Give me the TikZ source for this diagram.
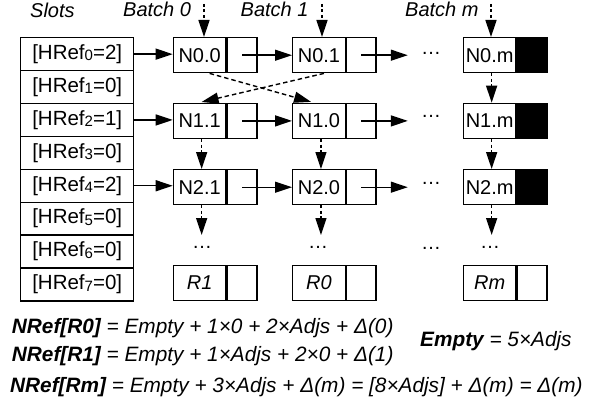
\documentclass[tikz,border=0pt]{standalone}
\usepackage{fontspec}
\setmainfont{Liberation Sans}
\usetikzlibrary{arrows.meta}
\newcommand\hsub[1]{\raisebox{-1.5pt}{\fontsize{15}{15}\selectfont #1}}
\begin{document}
\begin{tikzpicture}[x=1pt,y=-1pt,
  every node/.style={inner sep=0pt, font=\fontsize{20}{24}\selectfont},
  cell/.style={draw, line width=1.4pt, minimum height=35pt, anchor=north west},
  maincell/.style={cell, minimum width=52.5pt},
  ptrcell/.style={cell, minimum width=29.5pt},
  slot/.style={draw, line width=1.4pt, minimum width=113pt, minimum height=32.9pt, anchor=north west, font=\fontsize{20.5}{24}\selectfont},
  arr/.style={line width=1.4pt, -{Triangle[length=17pt,width=11pt]}},
  darr/.style={arr, dash pattern=on 3pt off 2.5pt},
  xarr/.style={arr, dash pattern=on 4.5pt off 3pt},
  lbl/.style={font=\fontsize{20}{24}\selectfont\itshape, anchor=base west},
  eq/.style={font=\fontsize{20.8}{24}\selectfont\itshape, anchor=base west},
  dotsn/.style={anchor=center}
]
\useasboundingbox (0,0) rectangle (602,404);

% slots
\foreach \k/\v in {0/2,1/0,2/1,3/0,4/2,5/0,6/0,7/0}
  \node[slot] (s\k) at (20,{37+32.9*\k}) {[HRef\hsub{\k}=\v]};

% labels
\node[lbl] (lslots) at (30,17.3) {Slots};
\node[lbl] (lb0) at (123,17) {Batch 0};
\node[lbl] (lb1) at (240.5,17) {Batch 1};
\node[lbl] (lbm) at (405,17) {Batch m};

% cells
\node[maincell] (r0c0) at (172.7,37) {N0.0};
\node[ptrcell] (q0c0) at (r0c0.north east) {};
\node[maincell] (r0c1) at (292,37) {N0.1};
\node[ptrcell] (q0c1) at (r0c1.north east) {};
\node[maincell] (r0cm) at (462.7,37) {N0.m};
\node[ptrcell, fill=black] (q0cm) at (r0cm.north east) {};

\node[maincell] (r1c0) at (172.7,102.7) {N1.1};
\node[ptrcell] (q1c0) at (r1c0.north east) {};
\node[maincell] (r1c1) at (292,102.7) {N1.0};
\node[ptrcell] (q1c1) at (r1c1.north east) {};
\node[maincell] (r1cm) at (462.7,102.7) {N1.m};
\node[ptrcell, fill=black] (q1cm) at (r1cm.north east) {};

\node[maincell] (r2c0) at (172.7,169) {N2.1};
\node[ptrcell] (q2c0) at (r2c0.north east) {};
\node[maincell] (r2c1) at (292,169) {N2.0};
\node[ptrcell] (q2c1) at (r2c1.north east) {};
\node[maincell] (r2cm) at (462.7,169) {N2.m};
\node[ptrcell, fill=black] (q2cm) at (r2cm.north east) {};

\node[maincell, font=\fontsize{20}{24}\selectfont\itshape] (r3c0) at (172.7,264.5) {R1};
\node[ptrcell] (q3c0) at (r3c0.north east) {};
\node[maincell, font=\fontsize{20}{24}\selectfont\itshape] (r3c1) at (292,264.5) {R0};
\node[ptrcell] (q3c1) at (r3c1.north east) {};
\node[maincell, font=\fontsize{20}{24}\selectfont\itshape] (r3cm) at (462.7,264.5) {Rm};
\node[ptrcell] (q3cm) at (r3cm.north east) {};

% dots
\node[dotsn] (d0) at (431,53) {…};
\node[dotsn] (d1) at (431,116.5) {…};
\node[dotsn] (d2) at (431,183) {…};
\node[dotsn] (e0) at (202,247) {…};
\node[dotsn] (e1) at (318,247) {…};
\node[dotsn] (e2) at (431,248.5) {…};
\node[dotsn] (em) at (490,247) {…};

% top arrows
\coordinate (b0) at (204,4);
\coordinate (b1) at (322,4);
\coordinate (bm) at (491,4);
\draw[darr] (b0) -- (b0 |- r0c0.north);
\draw[darr] (b1) -- (b1 |- r0c1.north);
\draw[darr] (bm) -- (bm |- r0cm.north);

% slot arrows
\draw[arr] (s0.east) -- (s0.east -| r0c0.west);
\draw[arr] (s2.east) -- (s2.east -| r1c0.west);
\draw[arr] (s4.east) -- (s4.east -| r2c0.west);

% pointer arrows
\draw[arr] (q0c0.center) -- (q0c0.center -| r0c1.west);
\draw[arr] (q1c0.center) -- (q1c0.center -| r1c1.west);
\draw[arr] (q2c0.center) -- (q2c0.center -| r2c1.west);
\draw[arr, shorten >=13pt] (q0c1.center) -- (q0c1.center -| d0.west);
\draw[arr, shorten >=13pt] (q1c1.center) -- (q1c1.center -| d1.west);
\draw[arr, shorten >=13pt] (q2c1.center) -- (q2c1.center -| d2.west);

% crossed arrows
\draw[xarr, shorten >=3pt] ([xshift=10pt]r0c0.south) -- ([xshift=-5pt]r1c1.north);
\draw[xarr, shorten >=3pt] ([xshift=5pt]r0c1.south) -- ([xshift=-1pt]r1c0.north);

% vertical arrows
\draw[darr] ([xshift=2pt]r0cm.south) -- ([xshift=2pt]r1cm.north);
\draw[darr] ([xshift=2pt]r1c0.south) -- ([xshift=2pt]r2c0.north);
\draw[darr] ([xshift=2pt]r1c1.south) -- ([xshift=2pt]r2c1.north);
\draw[darr] ([xshift=2pt]r1cm.south) -- ([xshift=2pt]r2cm.north);
\draw[darr, shorten >=12pt] ([xshift=2pt]r2c0.south) -- ([xshift=2pt]r2c0.south |- e0.center);
\draw[darr, shorten >=12pt] ([xshift=2pt]r2c1.south) -- ([xshift=2pt]r2c1.south |- e1.center);
\draw[darr, shorten >=12pt] ([xshift=2pt]r2cm.south) -- ([xshift=2pt]r2cm.south |- em.center);

% equations
\node[eq] (eq1) at (11.7,333) {\textbf{NRef[R0]} = Empty + 1×0 + 2×Adjs + Δ(0)};
\node[eq] (eq2) at (11.7,361.7) {\textbf{NRef[R1]} = Empty + 1×Adjs + 2×0 + Δ(1)};
\node[eq] (eq3) at (10,392.3) {\textbf{NRef[Rm]} = Empty + 3×Adjs + Δ(m) = [8×Adjs] + Δ(m) = Δ(m)};
\node[eq] (eq4) at (420,346.7) {\textbf{Empty} = 5×Adjs};
\end{tikzpicture}
\end{document}
